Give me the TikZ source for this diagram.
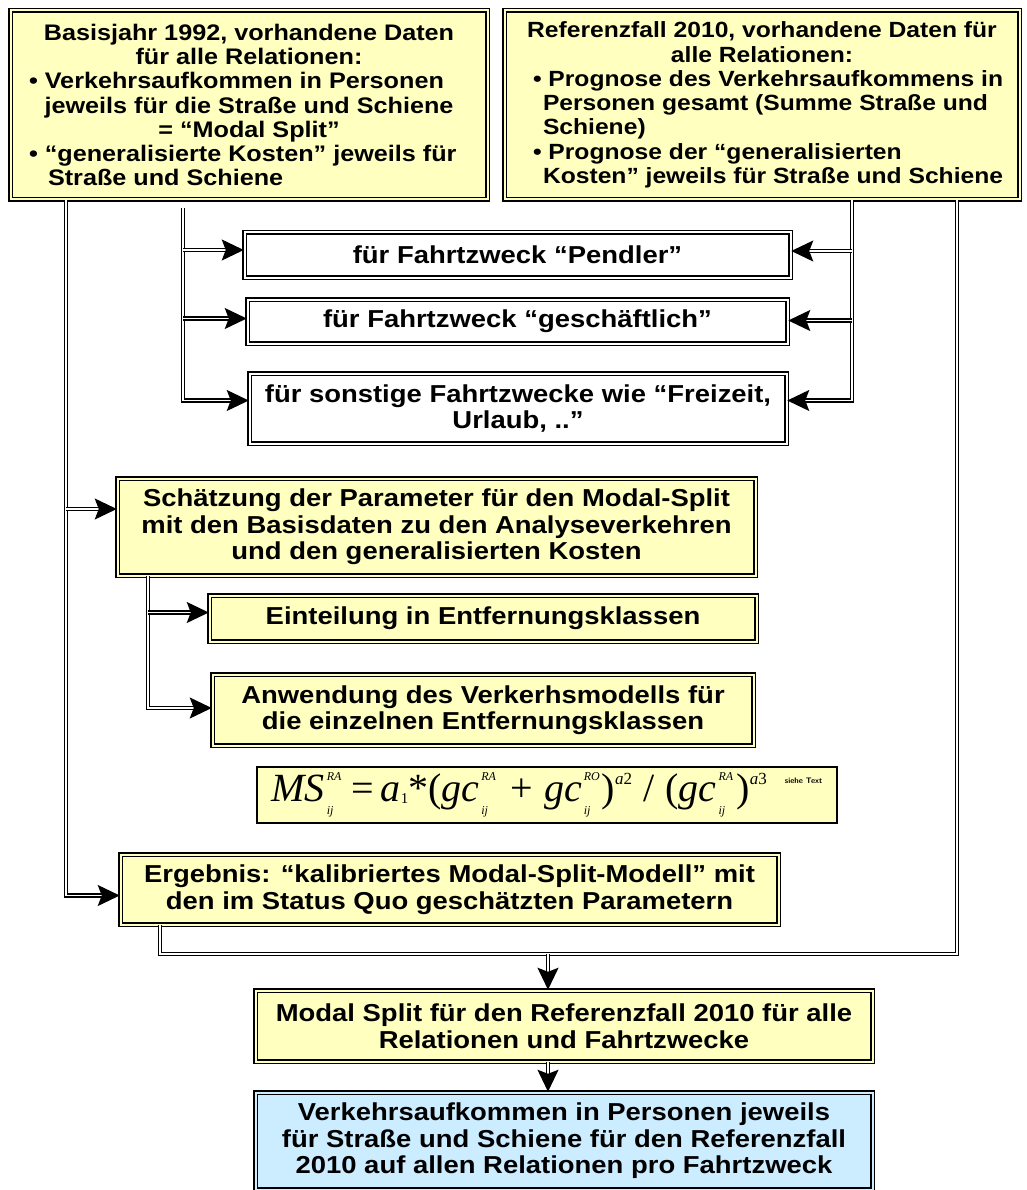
\documentclass[tikz,border=0pt]{standalone}
\usepackage{fontspec}
\setmainfont{Liberation Sans}[FakeStretch=1.12]
\newfontfamily\formelfont{Liberation Serif}
\usetikzlibrary{arrows.meta,positioning,calc}
\definecolor{gelb}{RGB}{255,255,192}
\definecolor{blau}{RGB}{204,236,255}
\newcommand{\zeile}[3]{\makebox[#1][l]{\hspace*{#2}#3}}
\newcommand{\idx}{\fontsize{12}{12}\selectfont\itshape}
\newcommand{\hoti}[2]{\kern2pt\rlap{\raisebox{21pt}{\idx #1}}\makebox[18pt][l]{\raisebox{-13pt}{\idx #2}}}
\newcommand{\expo}[2]{\raisebox{17pt}{\fontsize{17}{17}\selectfont\itshape #1\upshape #2}}
\tikzset{
box/.style = {draw, rectangle, line width=1.5pt, double distance=2pt, align=center, inner sep=2pt,
  font=\fontsize{24.5}{26.5}\selectfont\bfseries},
kopf/.style = {font=\fontsize{22.5}{24.3}\selectfont\bfseries},
gbox/.style = {box, fill=gelb, double=gelb},
wbox/.style = {box, fill=white, double=white},
bbox/.style = {box, fill=blau, double=blau},
formelbox/.style = {draw, rectangle, fill=gelb, line width=2.5pt, inner sep=2pt},
conn/.style = {double, line width=1.3pt, double distance=1.8pt},
arr/.style = {conn, -{Stealth[length=22pt,width=21pt,inset=4pt]}},
}

\begin{document}
\begin{tikzpicture}[x=1pt, y=-1pt]
      \useasboundingbox (0,0) rectangle (1026,1190);
      % Eingangsdaten
      \node [gbox, kopf, minimum width=477pt, minimum height=189pt] (basis) at (249,105)
         {Basisjahr 1992, vorhandene Daten\\für alle Relationen:\\
          \zeile{440pt}{0pt}{• Verkehrsaufkommen in Personen}\\
          jeweils für die Straße und Schiene\\= “Modal Split”\\
          \zeile{440pt}{0pt}{• “generalisierte Kosten” jeweils für}\\
          \zeile{440pt}{19pt}{Straße und Schiene}};
      \node [gbox, kopf, font=\fontsize{22}{24.3}\selectfont\bfseries, minimum width=515pt, minimum height=189pt] (ref) at (762,105)
         {Referenzfall 2010, vorhandene Daten für\\alle Relationen:\\
          \zeile{490pt}{16pt}{• Prognose des Verkehrsaufkommens in}\\
          \zeile{490pt}{26pt}{Personen gesamt (Summe Straße und}\\
          \zeile{490pt}{26pt}{Schiene)}\\
          \zeile{490pt}{16pt}{• Prognose der “generalisierten}\\
          \zeile{490pt}{26pt}{Kosten” jeweils für Straße und Schiene}};
      % Fahrtzwecke
      \node [wbox, minimum width=546pt, minimum height=45pt] (pendler) at (517.5,255) {für Fahrtzweck “Pendler”};
      \node [wbox, minimum width=540pt, minimum height=44pt] (geschaeft) at (517.5,321.5) {für Fahrtzweck “geschäftlich”};
      \node [wbox, minimum width=537pt, minimum height=70pt] (sonstige) at (518,408.5) {für sonstige Fahrtzwecke wie “Freizeit,\\Urlaub, ..”};
      % Kalibrierung
      \node [gbox, minimum width=638pt, minimum height=97pt] (schaetzung) at (436.5,527)
         {Schätzung der Parameter für den Modal-Split\\mit den Basisdaten zu den Analyseverkehren\\und den generalisierten Kosten};
      \node [gbox, minimum width=547pt, minimum height=46pt] (einteilung) at (483,618.5) {Einteilung in Entfernungsklassen};
      \node [gbox, minimum width=541pt, minimum height=71pt] (anwendung) at (483,710)
         {Anwendung des Verkerhsmodells für\\die einzelnen Entfernungsklassen};
      \node [formelbox, minimum width=580pt, minimum height=56pt] (formel) at (547,795)
         {\formelfont\fontsize{40}{40}\selectfont
          \raisebox{2pt}{\itshape MS\hoti{RA}{ij}\upshape\,=\,\itshape a\raisebox{-2pt}{\fontsize{15}{15}\selectfont\upshape 1}\upshape*(\itshape
          gc\hoti{RA}{ij}\upshape\;+\;\itshape gc\hoti{RO}{ij}\upshape)\expo{a}{2}\;/\;(\itshape
          gc\hoti{RA}{ij}\upshape)\expo{a}{3}}%
          \hspace{18pt}\raisebox{20pt}{\fontsize{8}{8}\selectfont\sffamily\bfseries siehe Text}};
      \node [gbox, minimum width=658pt, minimum height=70pt] (ergebnis) at (449.5,889.5)
         {Ergebnis: “kalibriertes Modal-Split-Modell” mit\\den im Status Quo geschätzten Parametern};
      % Referenzfall
      \node [gbox, minimum width=617pt, minimum height=71pt] (modal) at (564,1026)
         {Modal Split für den Referenzfall 2010 für alle\\Relationen und Fahrtzwecke};
      \node [bbox, minimum width=617pt, minimum height=97pt] (ziel) at (564,1141)
         {Verkehrsaufkommen in Personen jeweils\\für Straße und Schiene für den Referenzfall\\2010 auf allen Relationen pro Fahrtzweck};
      % Stränge
      \coordinate (xl) at (66,0);
      \coordinate (xi) at (183,0);
      \coordinate (xr) at (852,0);
      \coordinate (xs) at (148,0);
      \coordinate (xe) at (160,0);
      \coordinate (xm) at (548,0);
      \coordinate (knick) at (957,954);
      \draw [arr] (basis.south -| xl) |- ([yshift=-6pt]ergebnis.west);
      \draw [arr] ([yshift=18pt]schaetzung.west -| xl) -- ([yshift=18pt]schaetzung.west);
      \draw [arr] ([yshift=-8pt]basis.south -| xi) |- ([yshift=8pt]sonstige.west);
      \draw [arr] ([yshift=5pt]pendler.west -| xi) -- ([yshift=5pt]pendler.west);
      \draw [arr] ([yshift=3pt]geschaeft.west -| xi) -- ([yshift=3pt]geschaeft.west);
      \draw [arr] (ref.south -| xr) |- ([yshift=8pt]sonstige.east);
      \draw [arr] ([yshift=4pt]pendler.east -| xr) -- ([yshift=4pt]pendler.east);
      \draw [arr] ([yshift=1pt]geschaeft.east -| xr) -- ([yshift=1pt]geschaeft.east);
      \draw [arr] (schaetzung.south -| xs) |- ([yshift=2pt]anwendung.west);
      \draw [arr] ([yshift=6pt]einteilung.west -| xs) -- ([yshift=6pt]einteilung.west);
      \draw [conn] (ergebnis.south -| xe) |- (knick) -- (ref.south -| knick);
      \draw [arr] (knick -| xm) -- (modal.north -| xm);
      \draw [arr] (modal.south -| xm) -- (ziel.north -| xm);
\end{tikzpicture}
\end{document}
